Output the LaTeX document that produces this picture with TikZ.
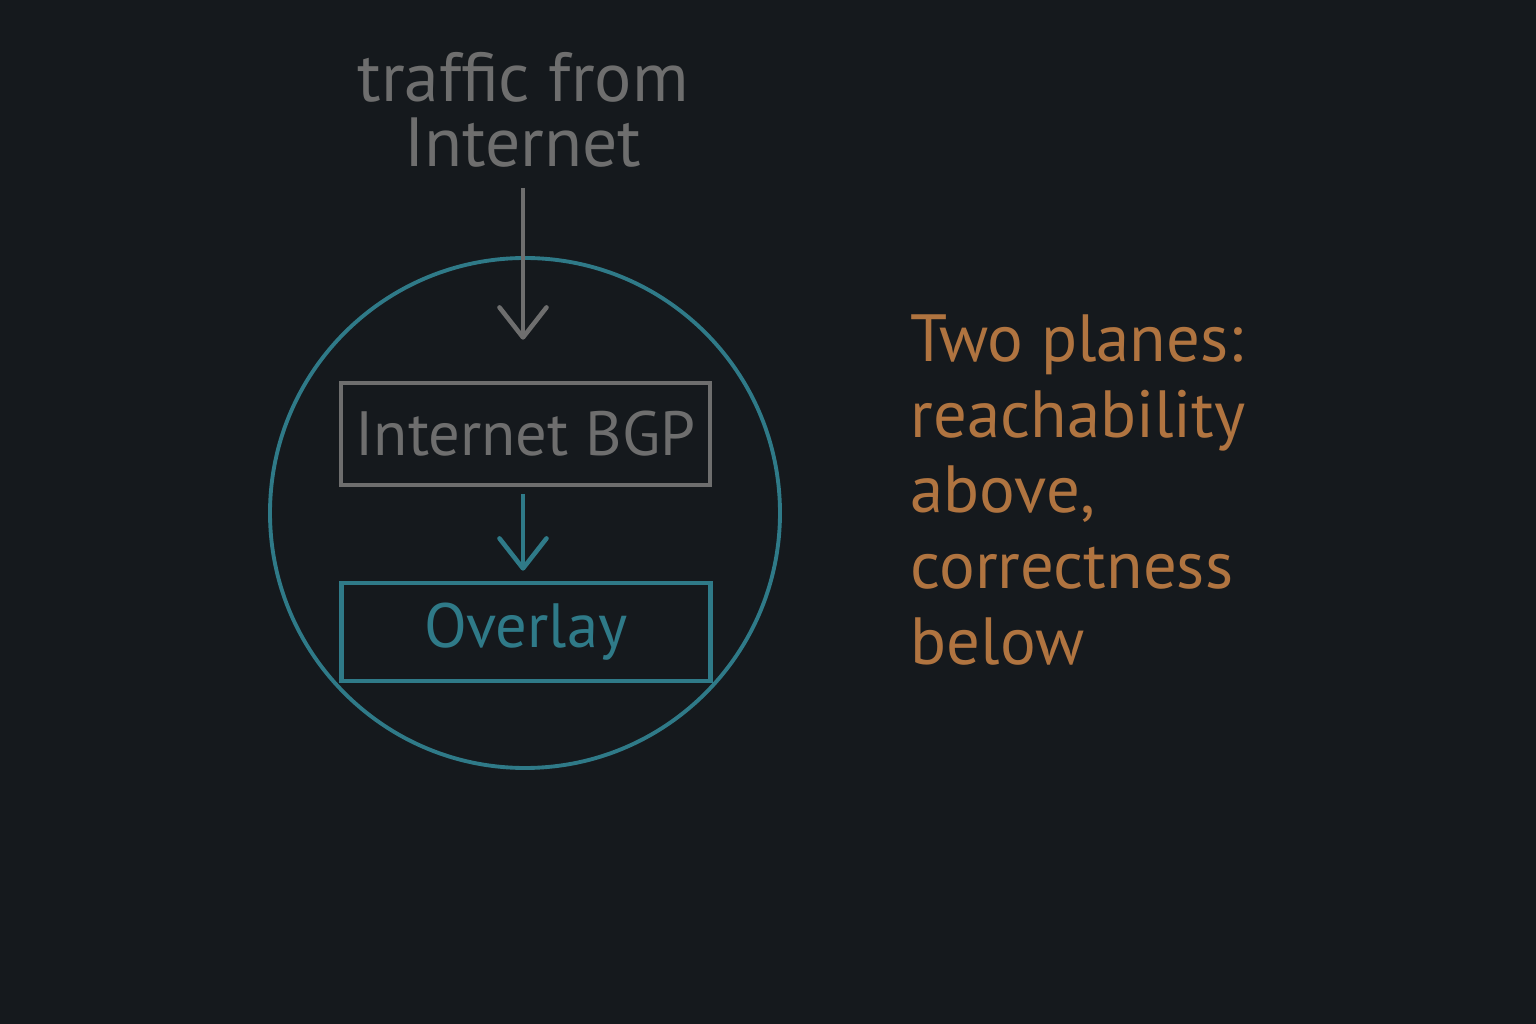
\documentclass[tikz,border=0pt]{standalone}
\usepackage{fontspec}
\setmainfont{PT Sans}
\usetikzlibrary{arrows.meta}
\definecolor{bg}{HTML}{15191D}
\definecolor{gry}{HTML}{6E6E6E}
\definecolor{tl}{HTML}{2F7A88}
\definecolor{ochre}{HTML}{B07440}
\tikzset{l/.style={font=\fontsize{17.8}{18.5}\selectfont}}
\tikzset{t/.style={font=\fontsize{19.8}{18.5}\selectfont}}
\tikzset{n/.style={font=\fontsize{19}{21.6}\selectfont}}
\tikzset{box/.style={draw,line width=1.3pt,minimum width=36.9mm,inner sep=0pt}}
\tikzset{tip/.style={-{Straight Barb[length=3mm,width=4.7mm,round]},line width=1.3pt}}
\begin{document}
\begin{tikzpicture}[x=0.1mm,y=-0.1mm]
        \fill[bg] (0,0) rectangle (1536,1024);
        \useasboundingbox (0,0) rectangle (1536,1024);
        % the two planes
        \node[draw=tl,line width=1.1pt,circle,minimum size=51mm,inner sep=0pt] (ring) at (525,513) {};
        \node[box,gry,l,minimum height=10.2mm] (bgp) at (525.5,434) {Internet BGP};
        \node[box,tl,l,minimum height=9.8mm] (ovl) at (526,632) {Overlay};
        \node[gry,t,align=center] (src) at (523,110) {traffic from\\Internet};
        \draw[tip,gry,shorten <=0.8mm,shorten >=4.1mm] (src.south) -- (src.south |- bgp.north);
        \draw[tip,tl,shorten <=0.7mm,shorten >=1mm] (bgp.south -| src.south) -- (src.south |- ovl.north);
        % note on the right
        \node[ochre,n,align=left,anchor=west,inner sep=0pt] (note) at (910,490)
          {Two planes:\\reachability\\above,\\correctness\\below};
      \end{tikzpicture}
\end{document}
